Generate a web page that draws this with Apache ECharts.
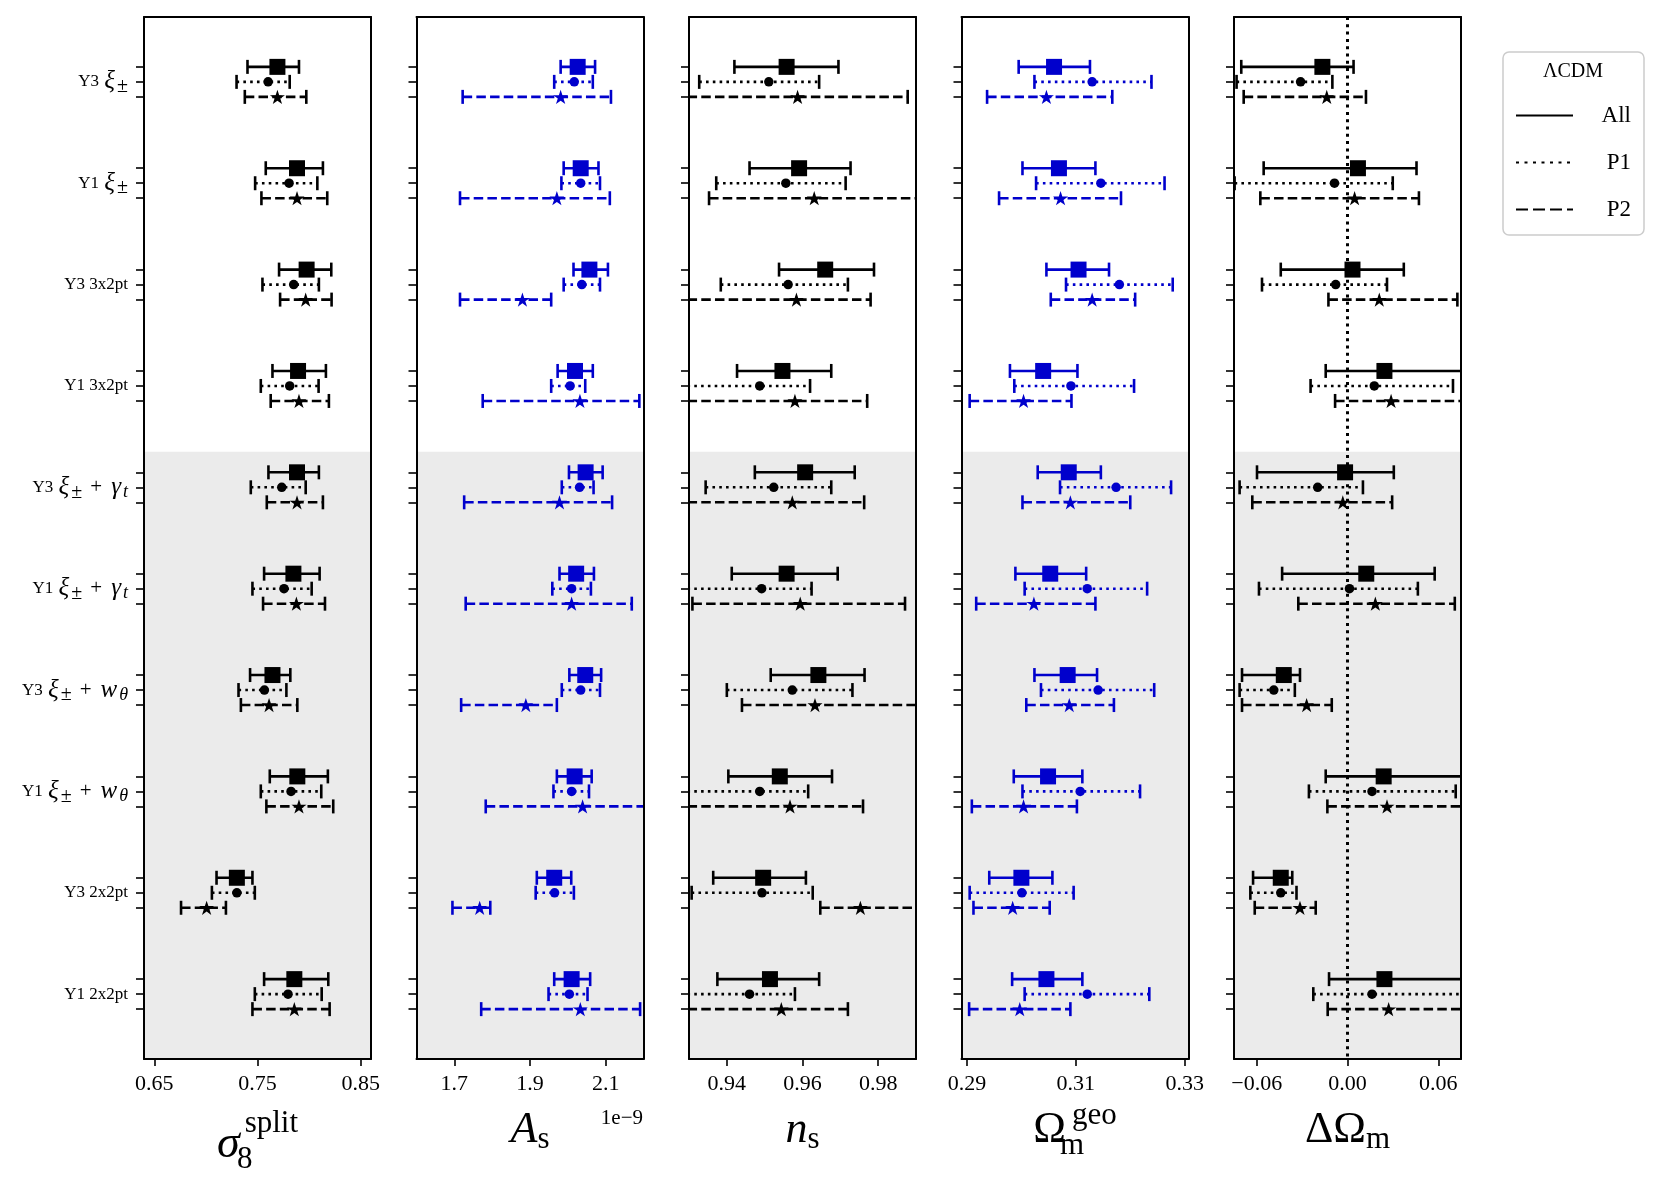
<!DOCTYPE html>
<html>
<head>
<meta charset="utf-8">
<script src="https://cdn.jsdelivr.net/npm/echarts@6/dist/echarts.min.js"></script>
<style>
  html, body { margin: 0; background: #fff; }
  #chart { width: 1660px; height: 1192px; }
</style>
</head>
<body>
<div id="chart"></div>
<script>
// === DATA ===
// row labels (top to bottom), rich-text markup for the mathtext bits
const rowLabels = [
    'Y3 {i|ξ}{s|±}',
    'Y1 {i|ξ}{s|±}',
    'Y3 3x2pt',
    'Y1 3x2pt',
    'Y3 {i|ξ}{s|±}{p|+}{i|γ}{si|t}',
    'Y1 {i|ξ}{s|±}{p|+}{i|γ}{si|t}',
    'Y3 {i|ξ}{s|±}{p|+}{i|w}{si|θ}',
    'Y1 {i|ξ}{s|±}{p|+}{i|w}{si|θ}',
    'Y3 2x2pt',
    'Y1 2x2pt'
];

// each entry: [lower, best fit, upper]
const sigma8All = [[0.7403, 0.7693, 0.7902], [0.758, 0.7883, 0.8134], [0.7709, 0.7976, 0.8215], [0.7645, 0.7893, 0.8163], [0.7606, 0.7883, 0.8095],
    [0.7564, 0.7848, 0.8102], [0.7428, 0.7645, 0.7818], [0.7619, 0.7886, 0.8182], [0.7103, 0.730, 0.7451], [0.7564, 0.7857, 0.8186]];
const sigma8P1 = [[0.7297, 0.7603, 0.7812], [0.7477, 0.7806, 0.808], [0.7548, 0.7851, 0.8095], [0.7532, 0.7812, 0.8092], [0.7435, 0.7735, 0.7967],
    [0.7451, 0.7757, 0.8025], [0.7316, 0.7567, 0.778], [0.7532, 0.7825, 0.8118], [0.7058, 0.730, 0.7474], [0.7474, 0.7796, 0.8122]];
const sigma8P2 = [[0.7377, 0.7693, 0.7973], [0.7538, 0.7883, 0.8176], [0.7719, 0.7967, 0.8218], [0.7628, 0.7902, 0.8192], [0.759, 0.7883, 0.8134],
    [0.7554, 0.7877, 0.8154], [0.7339, 0.7612, 0.7886], [0.7586, 0.7902, 0.8234], [0.6759, 0.7007, 0.7194], [0.7451, 0.7857, 0.8199]];

const asAll = [[1.981, 2.026, 2.072], [1.989, 2.034, 2.081], [2.015, 2.057, 2.106], [1.973, 2.019, 2.066], [2.003, 2.047, 2.092],
    [1.978, 2.022, 2.069], [2.004, 2.046, 2.088], [1.971, 2.018, 2.063], [1.918, 1.964, 2.009], [1.964, 2.010, 2.059]];
const asP1 = [[1.964, 2.017, 2.066], [1.983, 2.034, 2.085], [1.989, 2.037, 2.085], [1.956, 2.006, 2.046], [1.984, 2.031, 2.068],
    [1.959, 2.010, 2.061], [1.984, 2.034, 2.085], [1.962, 2.010, 2.056], [1.915, 1.965, 2.016], [1.949, 2.004, 2.052]];
const asP2 = [[1.722, 1.981, 2.114], [1.715, 1.971, 2.111], [1.715, 1.880, 1.956], [1.775, 2.032, 2.189], [1.726, 1.978, 2.117],
    [1.730, 2.010, 2.169], [1.718, 1.889, 1.971], [1.783, 2.039, 2.205], [1.695, 1.767, 1.795], [1.771, 2.033, 2.191]];

const nsAll = [[0.9420, 0.9558, 0.9695], [0.9460, 0.9591, 0.9727], [0.9538, 0.9660, 0.9789], [0.9427, 0.9547, 0.9676], [0.9474, 0.9607, 0.9738],
    [0.9413, 0.9558, 0.9693], [0.9516, 0.9642, 0.9764], [0.9404, 0.9540, 0.9678], [0.9364, 0.9496, 0.9609], [0.9375, 0.9514, 0.9644]];
const nsP1 = [[0.9327, 0.9511, 0.9644], [0.9372, 0.9556, 0.9714], [0.9384, 0.9562, 0.9720], [0.9296, 0.9487, 0.9620], [0.9344, 0.9524, 0.9676],
    [0.9260, 0.9492, 0.9624], [0.9400, 0.9573, 0.9732], [0.9260, 0.9487, 0.9615], [0.9307, 0.9493, 0.9627], [0.9260, 0.9460, 0.9580]];
const nsP2 = [[0.9260, 0.9587, 0.9878], [0.9353, 0.9631, 0.9950], [0.9260, 0.9584, 0.9780], [0.9260, 0.9580, 0.9771], [0.9260, 0.9573, 0.9763],
    [0.9309, 0.9594, 0.9871], [0.9440, 0.9633, 0.9950], [0.9260, 0.9567, 0.9760], [0.9647, 0.9753, 0.9950], [0.9260, 0.9544, 0.9720]];

const omAll = [[0.2995, 0.3060, 0.3126], [0.3002, 0.3069, 0.3136], [0.3046, 0.3105, 0.3161], [0.2979, 0.3040, 0.3103], [0.3030, 0.3087, 0.3146],
    [0.2989, 0.3053, 0.3119], [0.3024, 0.3085, 0.3139], [0.2986, 0.3049, 0.3112], [0.2941, 0.3000, 0.3057], [0.2983, 0.3046, 0.3112]];
const omP1 = [[0.3024, 0.3130, 0.3239], [0.3027, 0.3146, 0.3263], [0.3082, 0.3180, 0.3278], [0.2987, 0.3091, 0.3207], [0.3071, 0.3174, 0.3275],
    [0.3006, 0.3121, 0.3231], [0.3036, 0.3141, 0.3244], [0.3002, 0.3108, 0.3218], [0.2905, 0.3001, 0.3096], [0.3006, 0.3121, 0.3235]];
const omP2 = [[0.2937, 0.3046, 0.3167], [0.2959, 0.3072, 0.3183], [0.3054, 0.3130, 0.3209], [0.2905, 0.3004, 0.3092], [0.3002, 0.3090, 0.3200],
    [0.2917, 0.3023, 0.3136], [0.3009, 0.3088, 0.3170], [0.2909, 0.3004, 0.3102], [0.2912, 0.2984, 0.3052], [0.2904, 0.2997, 0.3090]];

const dOmAll = [[-0.0702, -0.0166, 0.0040], [-0.0554, 0.0069, 0.0456], [-0.0441, 0.0033, 0.0372], [-0.0144, 0.0244, 0.0900], [-0.0598, -0.0016, 0.0306],
    [-0.0432, 0.0124, 0.0576], [-0.0697, -0.0421, -0.0314], [-0.0144, 0.0239, 0.0900], [-0.0624, -0.0441, -0.0365], [-0.0122, 0.0244, 0.0900]];
const dOmP1 = [[-0.0733, -0.0310, -0.0100], [-0.0746, -0.0086, 0.0299], [-0.0565, -0.0078, 0.0261], [-0.0244, 0.0177, 0.0697], [-0.0713, -0.0197, 0.0102],
    [-0.0585, 0.0013, 0.0465], [-0.0713, -0.0487, -0.0348], [-0.0255, 0.0162, 0.0715], [-0.0642, -0.0441, -0.0337], [-0.0226, 0.0162, 0.0900]];
const dOmP2 = [[-0.0686, -0.0137, 0.0122], [-0.0576, 0.0047, 0.0472], [-0.0126, 0.0210, 0.0726], [-0.0082, 0.0288, 0.0900], [-0.0629, -0.0031, 0.0295],
    [-0.0325, 0.0184, 0.0709], [-0.0697, -0.0270, -0.0104], [-0.0133, 0.0261, 0.0900], [-0.0613, -0.0314, -0.0210], [-0.0131, 0.0272, 0.0900]];

// x axes: range and labelled ticks
const xMins = [0.64, 1.6, 0.93, 0.289, -0.075];
const xMaxs = [0.86, 2.2, 0.99, 0.3307, 0.075];
const xTicks = [[0.65, 0.75, 0.85], [1.7, 1.9, 2.1], [0.94, 0.96, 0.98], [0.29, 0.31, 0.33], [-0.06, 0.00, 0.06]];
const xDecimals = [2, 1, 2, 2, 2];
const seriesNames = ['All', 'P1', 'P2'];

// === LAYOUT / STYLE ===
const FONT = "'Liberation Serif', 'DejaVu Serif', serif";
const BLUE = '#0000cc';
const panelColors = ['#000', BLUE, '#000', BLUE, '#000'];
const panelLeft = [144, 416.5, 689, 961.5, 1234];
const panelWidth = 227;
const gridTop = 17, gridHeight = 1042;
const yMin = -0.64, yMax = 9.64;
const rowOffset = [-0.148, 0, 0.148];
const shadeFrom = 3.65;
const lineW = 2.6;
const capHalf = 7;
const dashes = ['solid', [2.6, 4.2], [9.5, 4.2]];
const STAR = 'path://M0,-1L0.2245,-0.309L0.951,-0.309L0.363,0.118L0.588,0.809L0,0.382L-0.588,0.809L-0.363,0.118L-0.951,-0.309L-0.2245,-0.309Z';
const symbols = ['rect', 'circle', STAR];
const symbolSizes = [16, 9.5, 15];

const panels = [
    [sigma8All, sigma8P1, sigma8P2],
    [asAll, asP1, asP2],
    [nsAll, nsP1, nsP2],
    [omAll, omP1, omP2],
    [dOmAll, dOmP1, dOmP2]
];

const rowIdx = rowLabels.map((_, i) => i);
const yTickValues = rowIdx.flatMap(r => rowOffset.map(o => r + o));

// row label pieces: italic symbols, lowered subscripts, spaced "+"
const labelRich = {
    i: { fontFamily: FONT, fontSize: 25, fontStyle: 'italic', color: '#000', lineHeight: 24, padding: [0, 1, 0, 1] },
    s: { fontFamily: FONT, fontSize: 20, color: '#000', lineHeight: 24, padding: [10, 0, 0, 1] },
    si: { fontFamily: FONT, fontSize: 18, fontStyle: 'italic', color: '#000', lineHeight: 24, padding: [10, 0, 0, 1] },
    p: { fontFamily: FONT, fontSize: 21, color: '#000', lineHeight: 24, padding: [0, 8, 0, 8] }
};

// axis titles; zero-width subscripts make sub/superscript stack
const axisNames = [
    '{g|σ}{sub8|8}{sup|split}',
    '{g|A}{sub|s}',
    '{g|n}{sub|s}',
    '{rO|Ω}{subm|m}{supg|geo}',
    '{r|ΔΩ}{sub|m}'
];
const NAME_MAIN = 44, NAME_SUB = 31;
const nameRich = {
    g: { fontFamily: FONT, fontSize: NAME_MAIN, fontStyle: 'italic', color: '#000', lineHeight: 44 },
    r: { fontFamily: FONT, fontSize: NAME_MAIN, color: '#000', lineHeight: 44 },
    rO: { fontFamily: FONT, fontSize: NAME_MAIN, color: '#000', lineHeight: 44, padding: [0, 6, 0, 0] },
    sub: { fontFamily: FONT, fontSize: NAME_SUB, color: '#000', lineHeight: 44, padding: [20, 0, 0, 0] },
    subm: { fontFamily: FONT, fontSize: NAME_SUB, color: '#000', lineHeight: 44, padding: [30, 0, 0, 0], width: 0 },
    supg: { fontFamily: FONT, fontSize: NAME_SUB, color: '#000', lineHeight: 44, padding: [0, 0, 31, 0] }
};
const nameRichSigma = {
    g: { fontFamily: FONT, fontSize: 46, fontStyle: 'italic', color: '#000', lineHeight: 74, padding: [0, 5, 0, 0] },
    sub8: { fontFamily: FONT, fontSize: NAME_SUB, color: '#000', lineHeight: 74, padding: [29, 0, 0, 0], width: 0 },
    sup: { fontFamily: FONT, fontSize: NAME_SUB, color: '#000', lineHeight: 74, padding: [0, 0, 43, 0] }
};

function fmtTick(v, dec) {
    return v.toFixed(dec).replace('-', '\u2212');
}

function errorBarRender(color, dash) {
    return function (params, api) {
        const y = api.value(2);
        const a = api.coord([api.value(0), y]);
        const b = api.coord([api.value(1), y]);
        const capStyle = { stroke: color, lineWidth: lineW };
        return {
            type: 'group',
            children: [
                { type: 'line', shape: { x1: a[0], y1: a[1], x2: b[0], y2: b[1] },
                  style: { stroke: color, lineWidth: lineW, lineDash: dash === 'solid' ? null : dash } },
                { type: 'line', shape: { x1: a[0], y1: a[1] - capHalf, x2: a[0], y2: a[1] + capHalf }, style: capStyle },
                { type: 'line', shape: { x1: b[0], y1: b[1] - capHalf, x2: b[0], y2: b[1] + capHalf }, style: capStyle }
            ]
        };
    };
}

const grids = [], xAxes = [], yAxes = [], series = [];
panels.forEach((sets, p) => {
    grids.push({ left: panelLeft[p], top: gridTop, width: panelWidth, height: gridHeight,
        containLabel: false, outerBoundsMode: 'none', show: false });

    const frameLine = { show: true, onZero: false, lineStyle: { color: '#000', width: 2 } };
    xAxes.push({
        gridIndex: p, type: 'value', min: xMins[p], max: xMaxs[p], position: 'bottom', z: 10,
        axisLine: frameLine,
        axisTick: { show: true, length: 7, customValues: xTicks[p], lineStyle: { color: '#000', width: 1.6 } },
        axisLabel: { show: true, customValues: xTicks[p], margin: 14, color: '#000', fontFamily: FONT, fontSize: 22,
            formatter: v => fmtTick(v, xDecimals[p]) },
        splitLine: { show: false },
        name: axisNames[p], nameLocation: 'middle', nameGap: 49,
        nameTextStyle: { rich: p === 0 ? nameRichSigma : nameRich }
    });
    xAxes.push({
        gridIndex: p, type: 'value', min: xMins[p], max: xMaxs[p], position: 'top', z: 10,
        axisLine: frameLine, axisTick: { show: false }, axisLabel: { show: false }, splitLine: { show: false }
    });
    yAxes.push({
        gridIndex: p, type: 'value', inverse: true, min: yMin, max: yMax, position: 'left', z: 10,
        axisLine: frameLine,
        axisTick: { show: true, length: 8, customValues: yTickValues, lineStyle: { color: '#000', width: 1.6 } },
        axisLabel: { show: p === 0, customValues: rowIdx, margin: 16, color: '#000', fontFamily: FONT, fontSize: 17,
            lineHeight: 24, rich: labelRich, formatter: v => rowLabels[Math.round(v)] },
        splitLine: { show: false }
    });
    yAxes.push({
        gridIndex: p, type: 'value', inverse: true, min: yMin, max: yMax, position: 'right', z: 10,
        axisLine: frameLine, axisTick: { show: false }, axisLabel: { show: false }, splitLine: { show: false }
    });

    const color = panelColors[p];
    sets.forEach((rows, k) => {
        const bar = {
            type: 'custom', name: seriesNames[k] + ' bars', xAxisIndex: 2 * p, yAxisIndex: 2 * p,
            clip: true, silent: true, z: 2,
            encode: { x: [0, 1], y: 2 },
            data: rows.map((r, i) => [r[0], r[2], i + rowOffset[k]]),
            renderItem: errorBarRender(color, dashes[k])
        };
        if (k === 0) {
            bar.markArea = {
                silent: true, z: 1,
                itemStyle: { color: '#ebebeb' },
                data: [[{ xAxis: xMins[p], yAxis: shadeFrom }, { xAxis: xMaxs[p], yAxis: yMax }]]
            };
            if (p === 4) {
                bar.markLine = {
                    silent: true, z: 1.5, symbol: ['none', 'none'], label: { show: false },
                    lineStyle: { color: '#000', type: [3, 4.3], width: 3 },
                    data: [{ xAxis: 0 }]
                };
            }
        }
        series.push(bar);
        series.push({
            type: 'scatter', name: seriesNames[k] + ' best', xAxisIndex: 2 * p, yAxisIndex: 2 * p,
            silent: true, z: 4,
            symbol: symbols[k], symbolSize: symbolSizes[k], symbolKeepAspect: true,
            itemStyle: { color: color, opacity: 1 },
            data: rows.map((r, i) => [r[1], i + rowOffset[k]])
        });
    });
});

// legend handles: empty line series carrying the line styles
seriesNames.forEach((n, k) => {
    series.push({
        type: 'line', name: n, xAxisIndex: 8, yAxisIndex: 8, data: [], symbol: 'none',
        lineStyle: { color: '#000', width: 3, type: k === 0 ? 'solid' : (k === 1 ? [3, 5.5] : [12, 5]) },
        itemStyle: { color: '#000', opacity: 0 }
    });
});

const chart = echarts.init(document.getElementById('chart'));
chart.setOption({
    animation: false,
    backgroundColor: '#fff',
    grid: grids,
    xAxis: xAxes,
    yAxis: yAxes,
    series: series,
    legend: {
        data: seriesNames, orient: 'vertical', left: 1503, top: 52,
        padding: [52, 13, 14, 12], itemWidth: 57, itemHeight: 24, itemGap: 24,
        borderColor: '#cccccc', borderWidth: 1.5, borderRadius: 6, backgroundColor: '#fff',
        selectedMode: false,
        itemStyle: { opacity: 0 },
        formatter: n => '{t|' + n + '}',
        textStyle: { color: '#000', fontFamily: FONT, fontSize: 23,
            rich: { t: { width: 53, align: 'right', fontFamily: FONT, fontSize: 23, lineHeight: 24, color: '#000' } } }
    },
    graphic: [
        { type: 'text', x: 1573, y: 72, z: 100,
          style: { text: 'ΛCDM', fill: '#000', font: '20px ' + FONT, textAlign: 'center', textVerticalAlign: 'middle' } },
        { type: 'text', x: 643, y: 1118, z: 100,
          style: { text: '1e\u22129', fill: '#000', font: '21px ' + FONT, textAlign: 'right', textVerticalAlign: 'middle' } }
    ]
});
window.addEventListener('resize', () => chart.resize());
</script>
</body>
</html>
